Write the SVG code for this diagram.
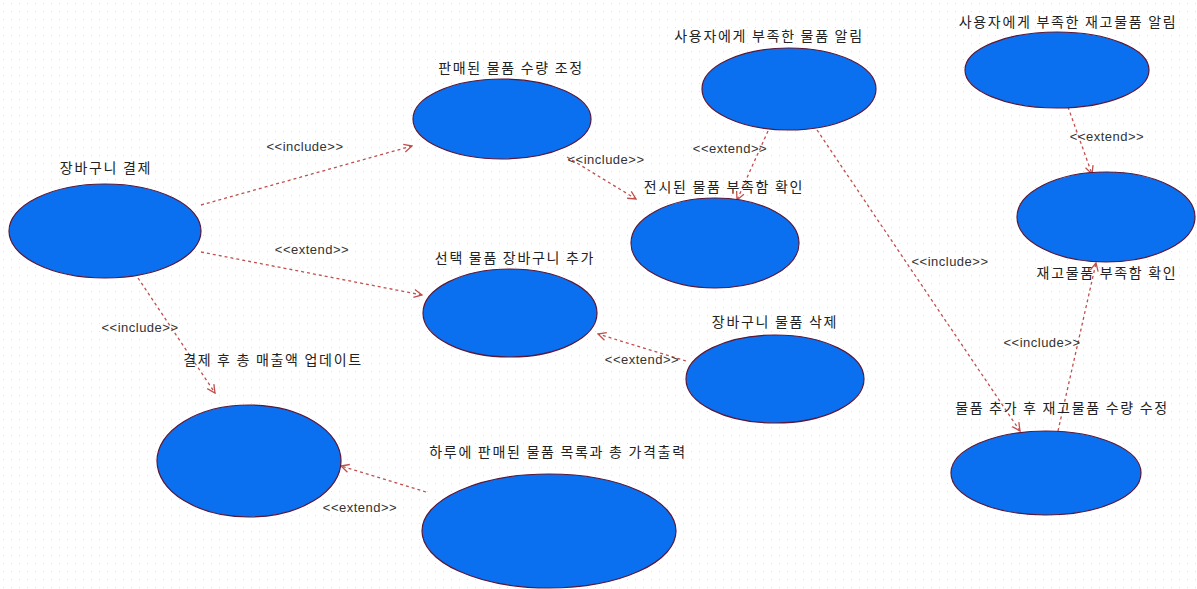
<svg xmlns="http://www.w3.org/2000/svg" width="1197" height="589" viewBox="0 0 1197 589">
<style>
.uc{fill:#0a70ef;stroke:#5a1838;stroke-width:1.2}
.lbl{font-family:"Noto Sans CJK KR","Noto Sans",sans-serif;font-size:14px;letter-spacing:1.7px;fill:#222;text-anchor:middle}
.st{font-family:"Liberation Sans","DejaVu Sans",sans-serif;font-size:13px;letter-spacing:0.5px;fill:#333;text-anchor:middle}
.cn{fill:none;stroke:#c0504d;stroke-width:1.3;stroke-dasharray:3 3;marker-end:url(#arr)}
</style>
<defs>
<pattern id="grid" width="8" height="8" patternUnits="userSpaceOnUse">
<rect x="3" y="3" width="1" height="1" fill="#e2e2e2"/>
</pattern>
<marker id="arr" viewBox="0 0 10 10" refX="9" refY="5" markerWidth="10" markerHeight="10" markerUnits="userSpaceOnUse" orient="auto">
<path d="M1,1 L9,5 L1,9" fill="none" stroke="#c0504d" stroke-width="1.3"/>
</marker>
</defs>
<rect width="1197" height="589" fill="#fff"/>
<rect width="1197" height="589" fill="url(#grid)"/>

<g id="connectors">
<line class="cn" x1="201" y1="205" x2="412" y2="146"/>
<line class="cn" x1="201" y1="252" x2="422" y2="295"/>
<line class="cn" x1="138" y1="278" x2="215" y2="393"/>
<line class="cn" x1="567" y1="157" x2="636" y2="199"/>
<line class="cn" x1="768" y1="131" x2="737" y2="200"/>
<line class="cn" x1="817" y1="130" x2="1020" y2="431"/>
<line class="cn" x1="1058" y1="431" x2="1096" y2="263"/>
<line class="cn" x1="1068" y1="107" x2="1092" y2="174"/>
<line class="cn" x1="686" y1="361" x2="598" y2="334"/>
<line class="cn" x1="426" y1="492" x2="341" y2="466"/>
<text class="st" x="305" y="151">&lt;&lt;include&gt;&gt;</text>
<text class="st" x="312" y="254">&lt;&lt;extend&gt;&gt;</text>
<text class="st" x="140" y="332">&lt;&lt;include&gt;&gt;</text>
<text class="st" x="606" y="164">&lt;&lt;include&gt;&gt;</text>
<text class="st" x="730" y="153">&lt;&lt;extend&gt;&gt;</text>
<text class="st" x="950" y="266">&lt;&lt;include&gt;&gt;</text>
<text class="st" x="1042" y="347">&lt;&lt;include&gt;&gt;</text>
<text class="st" x="1107" y="141">&lt;&lt;extend&gt;&gt;</text>
<text class="st" x="642" y="364">&lt;&lt;extend&gt;&gt;</text>
<text class="st" x="360" y="512">&lt;&lt;extend&gt;&gt;</text>
</g>

<g id="uc-checkout">
<ellipse class="uc" cx="105" cy="231" rx="96" ry="47"/>
<text class="lbl" x="106" y="173">장바구니 결제</text>
</g>
<g id="uc-adjust-sold">
<ellipse class="uc" cx="502" cy="119" rx="89" ry="40"/>
<text class="lbl" x="511" y="73">판매된 물품 수량 조정</text>
</g>
<g id="uc-notify-shortage">
<ellipse class="uc" cx="789" cy="89" rx="87" ry="41"/>
<text class="lbl" x="769" y="41">사용자에게 부족한 물품 알림</text>
</g>
<g id="uc-check-display">
<ellipse class="uc" cx="715" cy="243" rx="84" ry="45"/>
<text class="lbl" x="724" y="192">전시된 물품 부족함 확인</text>
</g>
<g id="uc-add-cart">
<ellipse class="uc" cx="510" cy="313" rx="87" ry="44"/>
<text class="lbl" x="515" y="263">선택 물품 장바구니 추가</text>
</g>
<g id="uc-remove-cart">
<ellipse class="uc" cx="775" cy="379" rx="89" ry="44"/>
<text class="lbl" x="775" y="327">장바구니 물품 삭제</text>
</g>
<g id="uc-update-sales">
<ellipse class="uc" cx="249" cy="461" rx="92" ry="56"/>
<text class="lbl" x="273" y="365">결제 후 총 매출액 업데이트</text>
</g>
<g id="uc-daily-report">
<ellipse class="uc" cx="549" cy="531" rx="127" ry="57"/>
<text class="lbl" x="558" y="457">하루에 판매된 물품 목록과 총 가격출력</text>
</g>
<g id="uc-notify-stock">
<ellipse class="uc" cx="1057" cy="70" rx="92" ry="38"/>
<text class="lbl" x="1068" y="27">사용자에게 부족한 재고물품 알림</text>
</g>
<g id="uc-check-stock">
<ellipse class="uc" cx="1106" cy="217" rx="89" ry="45"/>
<text class="lbl" x="1107" y="278">재고물품 부족함 확인</text>
</g>
<g id="uc-update-stock">
<ellipse class="uc" cx="1046" cy="473" rx="95" ry="42"/>
<text class="lbl" x="1062" y="413">물품 추가 후 재고물품 수량 수정</text>
</g>
</svg>
